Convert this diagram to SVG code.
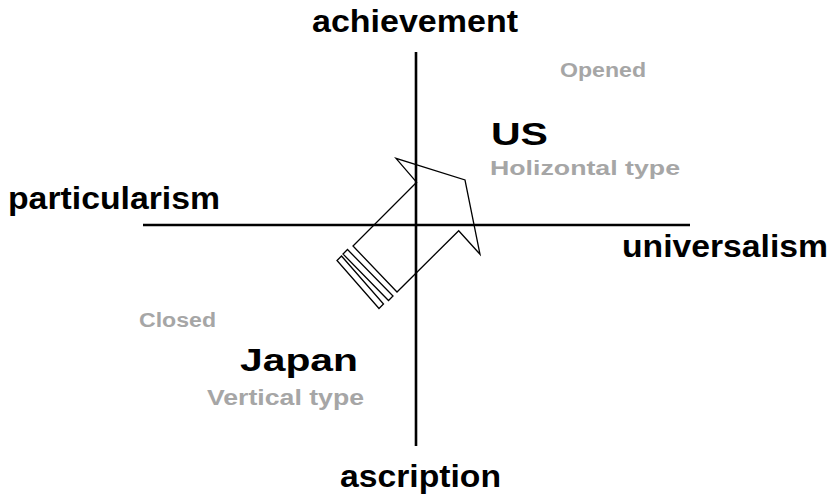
<svg xmlns="http://www.w3.org/2000/svg" width="831" height="497" viewBox="0 0 831 497">
<style>
.lbl{font-family:"Liberation Sans",Arial,sans-serif;font-weight:bold;fill:#000;font-size:31px}
.sub{font-family:"Liberation Sans",Arial,sans-serif;font-weight:bold;fill:#a6a6a6}
.axis{stroke:#000;stroke-width:2.6;fill:none}
.arr{stroke:#000;stroke-width:1.3;fill:none;stroke-linejoin:miter}
</style>
<rect width="831" height="497" fill="#fff"/>
<g id="connectors">
<line class="axis" x1="416" y1="52" x2="416" y2="446"/>
<line class="axis" x1="143" y1="225" x2="690" y2="225"/>
</g>
<g id="arrow">
<polygon class="arr" points="416.7,182.3 396,158.3 465,180 480,254.3 458.7,230.7 397,292 353,246"/>
<polygon class="arr" points="347.5,249.5 393,296 388.5,300.5 343,254"/>
<polygon class="arr" points="341.5,256 383.5,304 379,308.5 337,260.5"/>
</g>
<g id="achievement"><text class="lbl" x="312" y="32" textLength="206" lengthAdjust="spacingAndGlyphs">achievement</text></g>
<g id="ascription"><text class="lbl" x="340" y="487" textLength="161" lengthAdjust="spacingAndGlyphs">ascription</text></g>
<g id="particularism"><text class="lbl" x="8" y="209" textLength="212" lengthAdjust="spacingAndGlyphs">particularism</text></g>
<g id="universalism"><text class="lbl" x="622" y="257" textLength="206" lengthAdjust="spacingAndGlyphs">universalism</text></g>
<g id="opened"><text class="sub" x="560" y="77" font-size="20" textLength="86" lengthAdjust="spacingAndGlyphs">Opened</text></g>
<g id="us">
<text class="lbl" x="491" y="145" font-size="33" textLength="57" lengthAdjust="spacingAndGlyphs">US</text>
<text class="sub" x="490" y="175" font-size="21" textLength="190" lengthAdjust="spacingAndGlyphs">Holizontal type</text>
</g>
<g id="closed"><text class="sub" x="139" y="327" font-size="20" textLength="77" lengthAdjust="spacingAndGlyphs">Closed</text></g>
<g id="japan">
<text class="lbl" x="240" y="371" font-size="27" textLength="118" lengthAdjust="spacingAndGlyphs">Japan</text>
<text class="sub" x="207" y="405" font-size="22" textLength="157" lengthAdjust="spacingAndGlyphs">Vertical type</text>
</g>
</svg>
